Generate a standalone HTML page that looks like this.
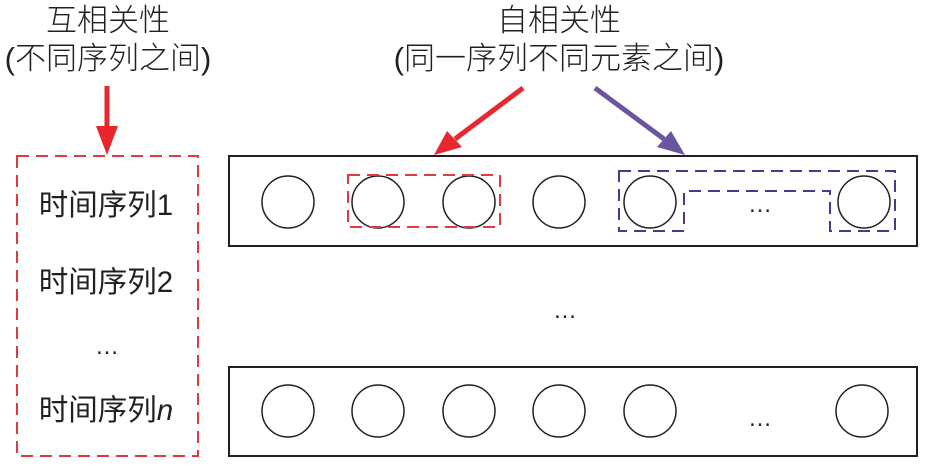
<!DOCTYPE html>
<html><head><meta charset="utf-8"><style>
html,body{margin:0;padding:0;background:#fff;width:925px;height:466px;overflow:hidden}
svg{display:block}
text{font-family:"Liberation Sans","Noto Sans CJK SC",sans-serif;fill:#231f20}
</style></head><body>
<svg width="925" height="466" viewBox="0 0 925 466" xmlns="http://www.w3.org/2000/svg">
<g font-size="31" text-anchor="middle" font-weight="300">
<text x="108" y="31">互相关性</text>
<text x="108" y="69">(不同序列之间)</text>
<text x="559" y="31">自相关性</text>
<text x="559" y="69">(同一序列不同元素之间)</text>
</g>
<line x1="107" y1="86" x2="107" y2="128" stroke="#e8262d" stroke-width="5"/>
<polygon points="96,126 118,126 107,155" fill="#e8262d"/>
<line x1="523" y1="88" x2="455" y2="139" stroke="#e8262d" stroke-width="5"/>
<polygon points="434,155 447,131 462,147" fill="#e8262d"/>
<line x1="595" y1="88" x2="664" y2="139" stroke="#6c55a0" stroke-width="5"/>
<polygon points="685,155 657,147 671,131" fill="#6c55a0"/>
<rect x="17" y="156" width="181" height="300" fill="none" stroke="#e03a3e" stroke-width="2" stroke-dasharray="12,7"/>
<g font-size="29.5" text-anchor="middle">
<text x="106" y="215">时间序列1</text>
<text x="106" y="292">时间序列2</text>
<text x="107" y="354" font-size="24">…</text>
<text x="106" y="420">时间序列<tspan font-style="italic">n</tspan></text>
</g>
<rect x="229" y="156" width="688" height="90" fill="none" stroke="#231f20" stroke-width="2"/>
<g fill="none" stroke="#231f20" stroke-width="1.5">
<circle cx="288" cy="202" r="26"/><circle cx="378" cy="202" r="26"/><circle cx="469" cy="202" r="26"/><circle cx="559" cy="202" r="26"/><circle cx="650" cy="202" r="26"/><circle cx="864" cy="202" r="26"/>
</g>
<rect x="348" y="175" width="152" height="52" fill="none" stroke="#e03a3e" stroke-width="2" stroke-dasharray="12,7"/>
<polygon points="619,171 895,171 895,231 830,231 830,191 684,191 684,231 619,231" fill="none" stroke="#3f3f8f" stroke-width="2" stroke-dasharray="12,7"/>
<text x="760" y="212" font-size="24" text-anchor="middle">…</text>
<text x="565" y="318" font-size="24" text-anchor="middle">…</text>
<rect x="229" y="367" width="688" height="89" fill="none" stroke="#231f20" stroke-width="2"/>
<g fill="none" stroke="#231f20" stroke-width="1.5">
<circle cx="288" cy="411" r="26"/><circle cx="378" cy="411" r="26"/><circle cx="469" cy="411" r="26"/><circle cx="559" cy="411" r="26"/><circle cx="650" cy="411" r="26"/><circle cx="862" cy="411" r="26"/>
</g>
<text x="760" y="426" font-size="24" text-anchor="middle">…</text>
</svg>
</body></html>
